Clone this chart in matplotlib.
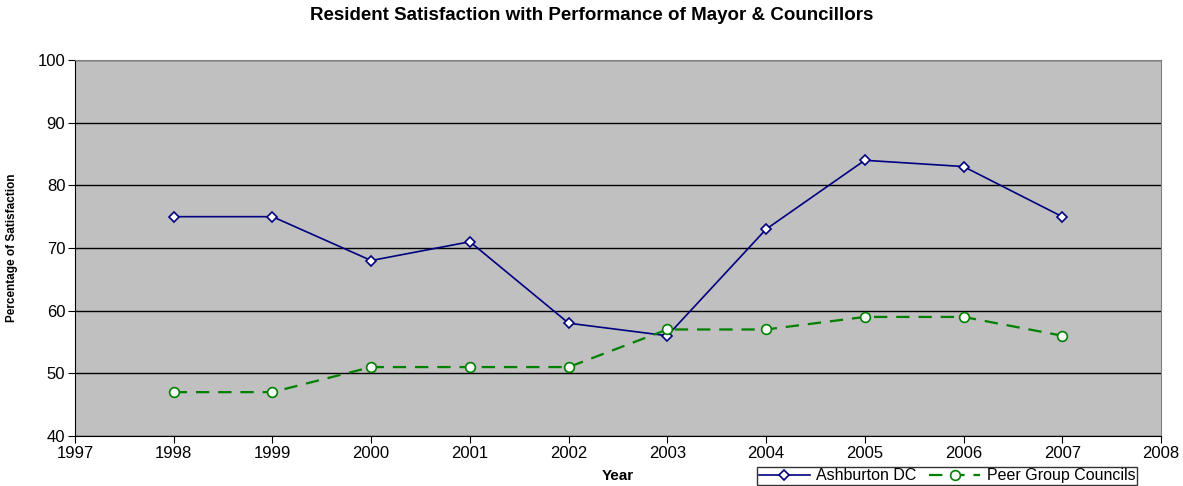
import matplotlib
matplotlib.use("Agg")
import matplotlib.pyplot as plt

plt.rcParams["font.family"] = ["Liberation Sans", "DejaVu Sans"]

years = [1998, 1999, 2000, 2001, 2002, 2003, 2004, 2005, 2006, 2007]
ashburton = [75, 75, 68, 71, 58, 56, 73, 84, 83, 75]
peer_group = [47, 47, 51, 51, 51, 57, 57, 59, 59, 56]

fig = plt.figure(figsize=(11.83, 4.86), dpi=100)
ax = fig.add_axes([0.0634, 0.1029, 0.918, 0.7736])
ax.set_facecolor("#c0c0c0")

ax.plot(years, ashburton, color="#000080", lw=1.2, marker="D", markersize=5,
        markerfacecolor="white", markeredgecolor="#000080", markeredgewidth=1.2,
        label="Ashburton DC", zorder=3)
ax.plot(years, peer_group, color="#008000", lw=1.6, ls=(0, (6, 4)), marker="o",
        markersize=7, markerfacecolor="white", markeredgecolor="#008000",
        markeredgewidth=1.2, label="Peer Group Councils", zorder=3)

ax.set_xlim(1997, 2008)
ax.set_ylim(40, 100)
ax.set_xticks(range(1997, 2009))
ax.set_yticks(range(40, 101, 10))
ax.yaxis.grid(True, color="black", lw=1)
ax.set_axisbelow(True)
for side in ["left", "bottom"]:
    ax.spines[side].set_color("black")
for side in ["top", "right"]:
    ax.spines[side].set_color("#808080")
ax.tick_params(direction="out", length=5, labelsize=12, pad=2)

ax.set_xlabel("Year", fontsize=11, fontweight="bold", labelpad=6)
ax.set_ylabel("Percentage of Satisfaction", fontsize=8.5, fontweight="bold", labelpad=14)
fig.suptitle("Resident Satisfaction with Performance of Mayor & Councillors",
             fontsize=13.5, fontweight="bold", y=0.985)

leg = ax.legend(loc="upper left", bbox_to_anchor=(0.628, -0.082), ncol=2,
                fontsize=11.5, frameon=True, fancybox=False, edgecolor="black",
                borderpad=0.1, handlelength=3.2, columnspacing=0.8,
                handletextpad=0.4, borderaxespad=0)
leg.get_frame().set_linewidth(1)

fig.savefig("out.png", dpi=100)
